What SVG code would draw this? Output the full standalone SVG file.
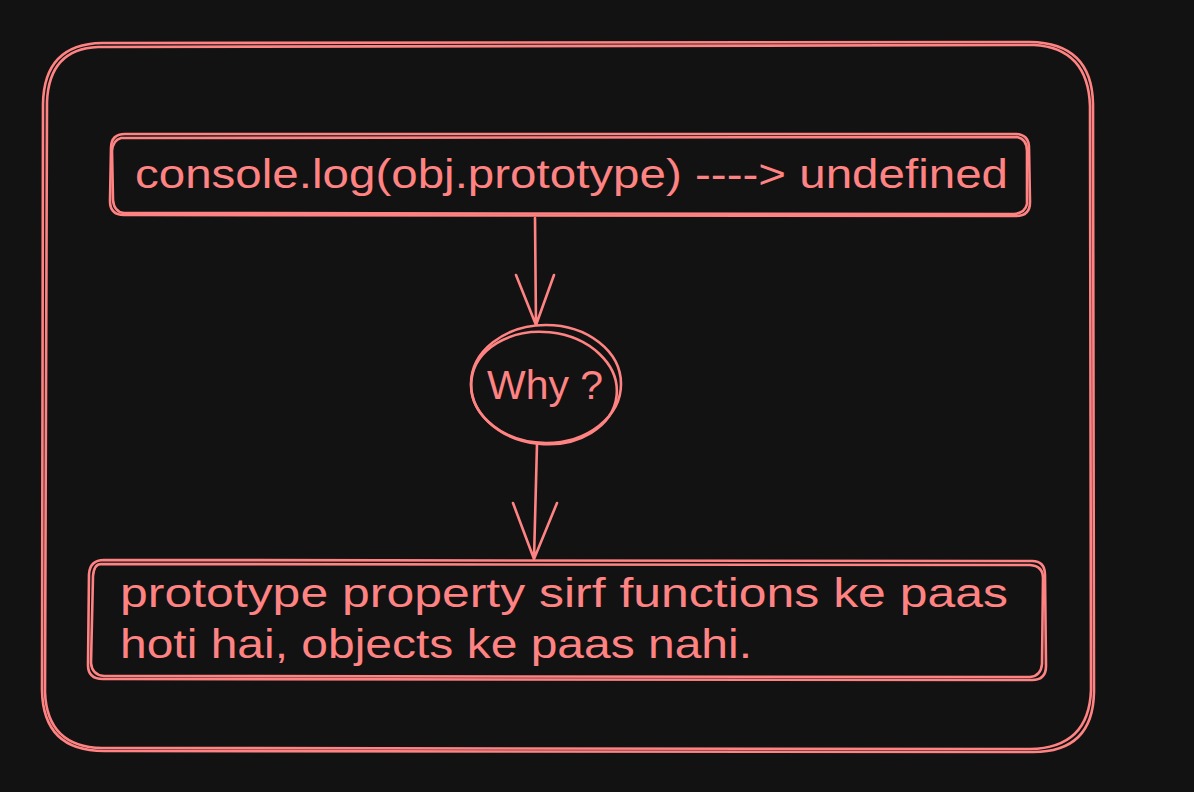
<svg xmlns="http://www.w3.org/2000/svg" width="1194" height="792" viewBox="0 0 1194 792">
<style>
.s{fill:none;stroke:#ff8383;stroke-width:2.6;stroke-linecap:round;stroke-linejoin:round}
.t{fill:#ff8383;font-family:"Liberation Sans",Arial,sans-serif;font-size:40px}
</style>
<rect width="1194" height="792" fill="#121212"/>
<g id="frame">
<path class="s" d="M102 43 L1030 42 Q1092 43 1093 104 L1094 692 Q1093 752 1033 752 L104 751 Q43 751 42 690 L43 104 Q44 44 102 43 Z"/>
<path class="s" d="M98 47 L1034 45 Q1088 48 1090 106 L1091 690 Q1089 748 1030 749 L102 748 Q47 747 45 692 L47 102 Q49 49 98 47 Z" stroke-width="1.6"/>
</g>
<g id="node-console">
<path class="s" d="M125 134 L1015 134 Q1029 134 1029 148 L1030 202 Q1030 216 1016 216 L124 215 Q110 215 110 201 L111 148 Q111 134 125 134 Z"/>
<path class="s" d="M121 138 L1017 137 Q1027 139 1027 151 L1027 204 Q1025 213 1014 214 L124 213 Q114 212 113 200 L112 151 Q113 140 121 138 Z" stroke-width="1.6"/>
<text class="t" x="135" y="188" textLength="873" lengthAdjust="spacingAndGlyphs">console.log(obj.prototype) ----&gt; undefined</text>
</g>
<g id="node-why">
<ellipse class="s" cx="546" cy="384" rx="75" ry="59"/>
<ellipse class="s" cx="544" cy="388" rx="73" ry="56" stroke-width="1.6" transform="rotate(6 544 388)"/>
<text class="t" x="487" y="399" textLength="116" lengthAdjust="spacingAndGlyphs">Why ?</text>
</g>
<g id="node-answer">
<path class="s" d="M104 560 L1032 561 Q1045 561 1045 575 L1046 666 Q1046 680 1032 680 L103 679 Q88 679 88 665 L89 574 Q90 560 104 560 Z"/>
<path class="s" d="M101 564 L1030 565 Q1043 566 1043 578 L1042 664 Q1041 676 1030 677 L104 676 Q92 675 91 663 L93 576 Q94 564 101 564 Z" stroke-width="1.6"/>
<text class="t" x="120" y="607" textLength="888" lengthAdjust="spacingAndGlyphs">prototype property sirf functions ke paas</text>
<text class="t" x="120" y="658" textLength="632" lengthAdjust="spacingAndGlyphs">hoti hai, objects ke paas nahi.</text>
</g>
<g id="connectors">
<path class="s" d="M535 218 L536 325 M516 275 L536 325 L554 275"/>
<path class="s" d="M537 444 L534 559 M513 503 L534 559 L557 503"/>
</g>
</svg>
